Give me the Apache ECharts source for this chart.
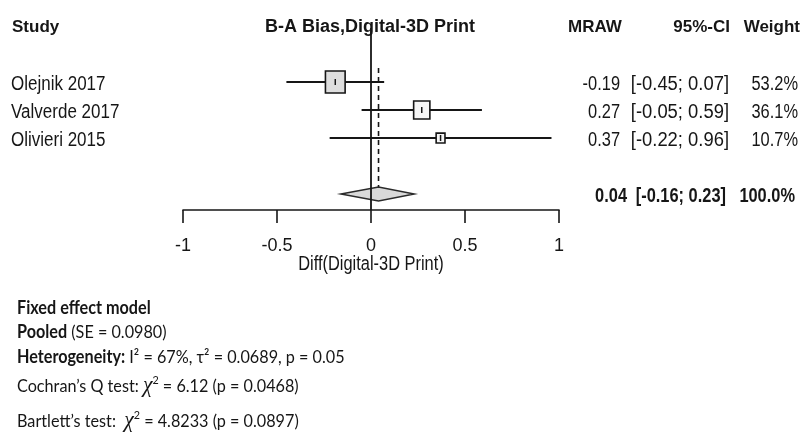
<!DOCTYPE html>
<html><head><meta charset="utf-8">
<script src="https://cdn.jsdelivr.net/npm/echarts@6/dist/echarts.min.js"></script>
<style>html,body{margin:0;padding:0;background:#fff}#c{width:804px;height:439px}</style>
</head><body><div id="c"></div>
<script>
// ---- data ----
const studies = ['Olejnik 2017', 'Valverde 2017', 'Olivieri 2015'];
const mraw = [-0.19, 0.27, 0.37];
const ciLow = [-0.45, -0.05, -0.22];
const ciHigh = [0.07, 0.59, 0.96];
const weights = [53.2, 36.1, 10.7];
const pooledEst = 0.04;
const pooledLow = -0.16;
const pooledHigh = 0.23;
const pooledWeight = 100.0;
const xTicks = [-1, -0.5, 0, 0.5, 1];
const headers = ['Study', 'B-A Bias,Digital-3D Print', 'MRAW', '95%-CI', 'Weight'];
const axisTitle = 'Diff(Digital-3D Print)';
const statsLines = [
  '{b|Fixed effect model}',
  '{b|Pooled} (SE = 0.0980)',
  '{b|Heterogeneity:} I² = 67%, τ² = 0.0689, p = 0.05',
  'Cochran’s Q test: {chi|χ}{sup|2} = 6.12 (p = 0.0468)',
  'Bartlett’s test:  {chi|χ}{sup|2} = 4.8233 (p = 0.0897)'
];

// ---- chart ----
const SANS = "'Liberation Sans',Arial,sans-serif";
const CAL = "Lato,'Open Sans',sans-serif";
const INK = '#161616';
const NARROW = 0.82;
const firstRow = 2, pooledRow = 6, yMax = 6.57;

const chart = echarts.init(document.getElementById('c'), null, {renderer: 'canvas'});

const studyData = studies.map((s, i) => [mraw[i], firstRow + i, ciLow[i], ciHigh[i], weights[i], i]);

chart.setOption({
  animation: false,
  backgroundColor: '#fff',
  grid: {left: 183, right: 245, top: 26, bottom: 229},
  xAxis: {
    type: 'value', position: 'bottom', min: xTicks[0], max: xTicks[xTicks.length - 1], interval: 0.5,
    axisLine: {show: true, onZero: false, lineStyle: {color: INK, width: 1.6}},
    axisTick: {show: true, length: 13, lineStyle: {color: INK, width: 1.6}},
    axisLabel: {color: INK, fontFamily: SANS, fontSize: 18, margin: 27, formatter: v => String(v)},
    splitLine: {show: false}
  },
  yAxis: {type: 'value', min: 0, max: yMax, inverse: true, show: false},
  series: [
    {
      type: 'line', data: [[pooledEst, 1.5], [pooledEst, 5.75]], symbol: 'none', z: 2,
      lineStyle: {color: INK, width: 1.6, type: [5, 4]}
    },
    {
      type: 'custom', z: 3,
      data: [[pooledEst, pooledRow, pooledLow, pooledHigh]],
      renderItem: (p, api) => {
        const y = api.value(1);
        const c = api.coord([api.value(0), y]);
        const l = api.coord([api.value(2), y]);
        const h = api.coord([api.value(3), y]);
        const hh = 7;
        return {type: 'polygon', shape: {points: [[l[0], c[1]], [c[0], c[1] - hh], [h[0], c[1]], [c[0], c[1] + hh]]},
          style: {fill: '#d9d9d9', stroke: '#2a2a2a', lineWidth: 1.5}};
      }
    },
    {
      type: 'custom', z: 4,
      data: studyData,
      renderItem: (p, api) => {
        const y = api.value(1);
        const c = api.coord([api.value(0), y]);
        const l = api.coord([api.value(2), y]);
        const h = api.coord([api.value(3), y]);
        const w = api.value(4);
        const bw = 2.7 * Math.sqrt(w), bh = 3.0 * Math.sqrt(w);
        const fill = api.value(5) === 0 ? '#dedede' : '#f6f6f6';
        return {type: 'group', children: [
          {type: 'line', shape: {x1: l[0], y1: c[1], x2: h[0], y2: c[1]}, style: {stroke: INK, lineWidth: 1.8}},
          {type: 'rect', shape: {x: c[0] - bw / 2, y: c[1] - bh / 2, width: bw, height: bh}, style: {fill: fill, stroke: INK, lineWidth: 1.6}},
          {type: 'line', shape: {x1: c[0], y1: c[1] - 3, x2: c[0], y2: c[1] + 3}, style: {stroke: INK, lineWidth: 1.5}}
        ]};
      }
    },
    {
      type: 'line', data: [[0, 0.07], [0, yMax]], symbol: 'none', z: 5,
      lineStyle: {color: INK, width: 1.8}
    }
  ]
});

// ---- text columns ----
const rowY = r => chart.convertToPixel({gridIndex: 0}, [0, r])[1];
const g = [];
const txt = (text, x, y, align, font, sx) => g.push({type: 'text', silent: true, x: x, y: y, scaleX: sx || 1,
  style: {text: text, x: 0, y: 0, textAlign: align, textVerticalAlign: 'middle', fill: INK, font: font}});

const hY = 27;
txt(headers[0], 12, hY, 'left', 'bold 17px ' + SANS);
txt(headers[1], 370, hY, 'center', 'bold 18px ' + SANS);
txt(headers[2], 568, hY, 'left', 'bold 17px ' + SANS);
txt(headers[3], 730, hY, 'right', 'bold 17px ' + SANS);
txt(headers[4], 800, hY, 'right', 'bold 17px ' + SANS);

const nFont = '20px ' + SANS;
studies.forEach((s, i) => {
  const y = rowY(firstRow + i) + 2;
  txt(s, 11, y, 'left', nFont, 0.85);
  txt(mraw[i].toFixed(2), 620, y, 'right', nFont, NARROW);
  txt('[' + ciLow[i].toFixed(2) + '; ' + ciHigh[i].toFixed(2) + ']', 729, y, 'right', nFont, 0.92);
  txt(weights[i].toFixed(1) + '%', 798, y, 'right', nFont, NARROW);
});
const bFont = 'bold 20px ' + SANS;
const py = rowY(pooledRow) + 2;
txt(pooledEst.toFixed(2), 627, py, 'right', bFont, NARROW);
txt('[' + pooledLow.toFixed(2) + '; ' + pooledHigh.toFixed(2) + ']', 726, py, 'right', bFont, NARROW);
txt(pooledWeight.toFixed(1) + '%', 795, py, 'right', bFont, NARROW);

// axis title (narrow)
txt(axisTitle, 371, 264, 'center', '20px ' + SANS, NARROW);

const statY = [308, 332, 357, 386, 421];
statsLines.forEach((s, i) => {
  g.push({type: 'text', silent: true, x: 17, y: statY[i], scaleX: 0.9, style: {
    text: s, x: 0, y: 0, textAlign: 'left', textVerticalAlign: 'middle', fill: INK,
    fontFamily: CAL, fontSize: 18,
    rich: {
      b: {fontFamily: CAL, fontSize: 18, fontWeight: 'bold', fill: INK},
      chi: {fontFamily: "'Liberation Serif','DejaVu Serif',serif", fontStyle: 'italic', fontSize: 24, fill: INK},
      sup: {fontFamily: CAL, fontSize: 12, fill: INK, padding: [0, 0, 12, 0]}
    }
  }});
});

chart.setOption({graphic: g});
</script>
</body></html>
